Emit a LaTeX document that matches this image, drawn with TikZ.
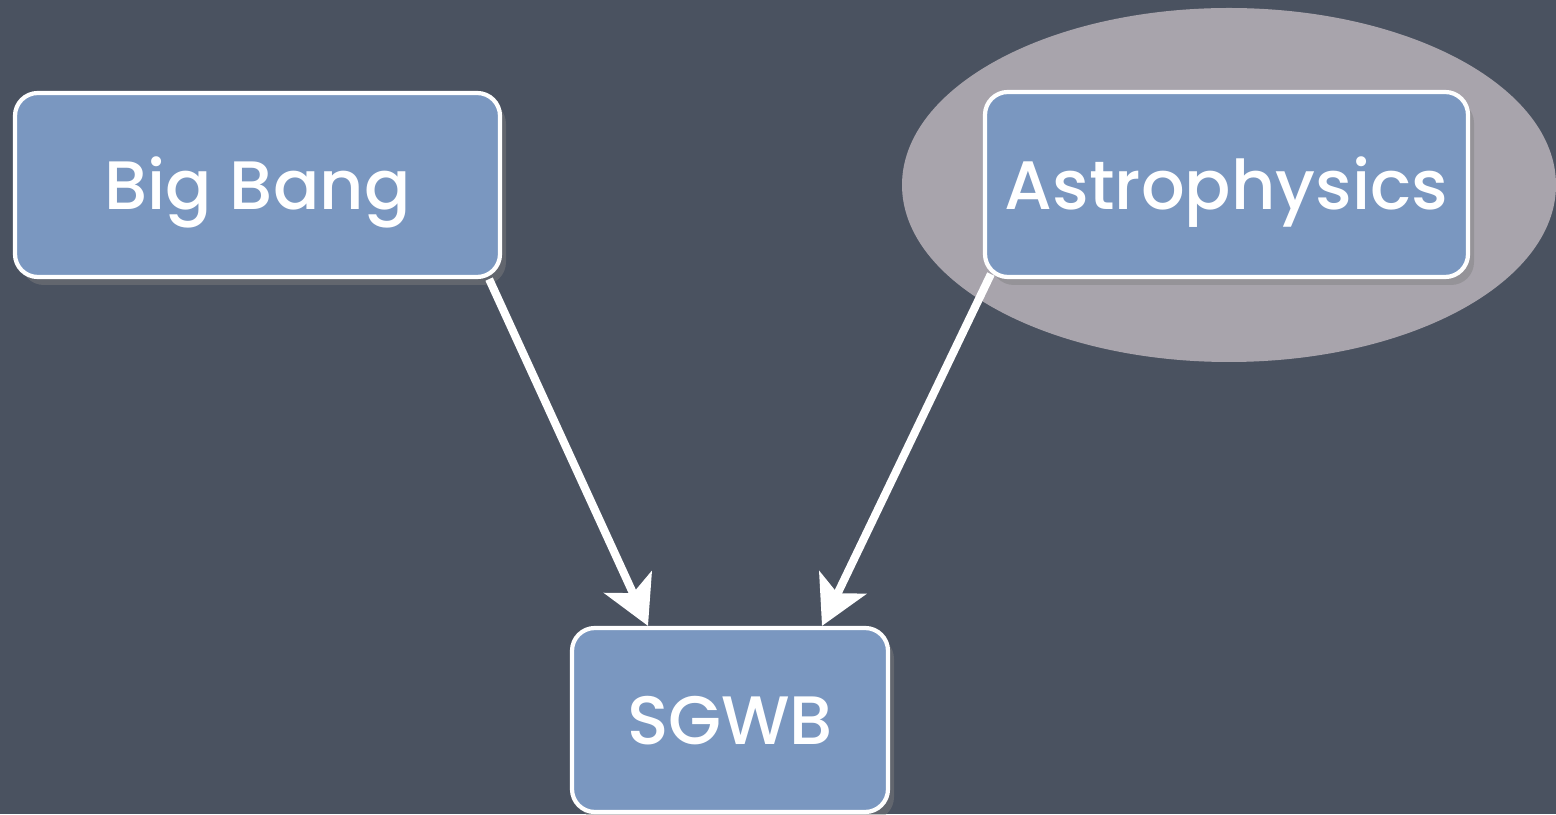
\documentclass[tikz,border=0pt]{standalone}
\usepackage{fontspec}
\setmainfont{Poppins}[UprightFont={* Medium}]
\usepackage{tikz}
\usetikzlibrary{arrows.meta,calc,positioning,shadows}
\definecolor{slateboard}{RGB}{74,82,96}
\definecolor{boxblue}{RGB}{122,151,192}
\definecolor{haloGray}{RGB}{168,164,172}

\begin{document}
\begin{tikzpicture}[>={Stealth[length=4.8mm,width=5.2mm,inset=1.2mm]},
  topicbox/.style={draw=white,line width=1.2pt,fill=boxblue,rounded corners=6.5pt,
    text=white,font=\fontsize{19.5}{23}\selectfont,text height=14pt,text depth=0pt,
    drop shadow={shadow xshift=0.6mm,shadow yshift=-0.8mm,opacity=0.45}},
  flowarrow/.style={->,white,line width=2.3pt}]
  % board
  \fill[slateboard] (0,0) rectangle (15.56,8.14);
  \useasboundingbox (0,0) rectangle (15.56,8.14);
  % halo round the astrophysics box
  \fill[haloGray] (12.29,6.29) ellipse[x radius=3.27,y radius=1.77];
  \node[topicbox,minimum width=4.85cm,minimum height=1.84cm] (bigbang) at (2.575,6.29) {Big Bang};
  \node[topicbox,minimum width=4.83cm,minimum height=1.85cm] (astro) at (12.265,6.295) {Astrophysics};
  \node[topicbox,minimum width=3.16cm,minimum height=1.84cm] (sgwb) at (7.30,0.94) {SGWB};
  \draw[flowarrow] ([xshift=-1.3mm]bigbang.south east) -- ([xshift=-8.2mm]sgwb.north);
  \draw[flowarrow] ([xshift=0.8mm,yshift=0.5mm]astro.south west) -- ([xshift=9.2mm]sgwb.north);
\end{tikzpicture}
\end{document}
